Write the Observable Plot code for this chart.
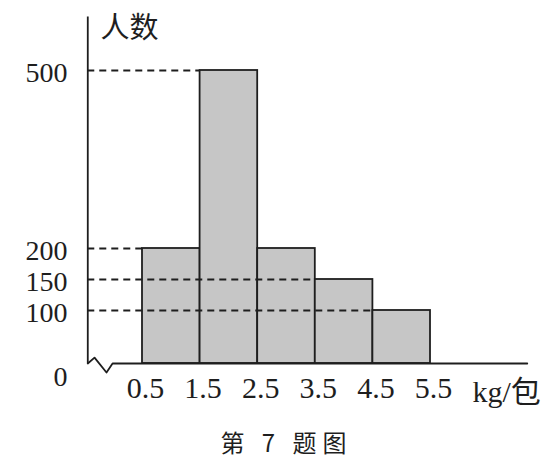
<!DOCTYPE html>
<html><head><meta charset="utf-8">
<script src="https://cdn.jsdelivr.net/npm/d3@7"></script>
<script src="https://cdn.jsdelivr.net/npm/@observablehq/plot@0.6"></script>
<style>body{margin:0;background:#fff}</style>
</head><body><div id="chart"></div>
<script>
const binEdges = [0.5, 1.5, 2.5, 3.5, 4.5, 5.5];
const counts = [200, 500, 200, 150, 100];
const yTicks = [100, 150, 200, 500];
const xLabel = "kg/包";
const yLabel = "人数";
const caption = "第 7 题图";

const bins = counts.map((c, i) => ({x1: binEdges[i], x2: binEdges[i + 1], count: c}));
const guides = yTicks.map(v => ({v, x2: bins.find(b => b.count === v).x1}));
const axisX = -0.45, axisTop = 590, axisEnd = 7.18;
const breakMark = [
  {x: axisX, y: 0}, {x: -0.333, y: 11}, {x: -0.125, y: -17}, {x: -0.02, y: 0}, {x: axisEnd, y: 0}
];
// the printed figure uses an uneven vertical scale (as drawn in the textbook)
const yWarp = d3.scaleLinear().domain([0, 100, 200, 500]).range([0, 53, 115, 293]);
const serif = "'Liberation Serif', 'Times New Roman', 'Noto Sans CJK SC', serif";
const cjk = "'Noto Sans CJK SC', sans-serif";
const ink = "#1e1e1e";

const chart = Plot.plot({
  width: 548, height: 463,
  marginLeft: 87, marginRight: 21, marginTop: 16, marginBottom: 100,
  x: {domain: [0.5, 5.5], range: [142, 430]},
  y: {transform: v => yWarp(v), domain: [0, 293], range: [363, 70]},
  style: {fontFamily: serif, color: ink, background: "#fff"},
  marks: [
    Plot.rectY(bins, {x1: "x1", x2: "x2", y1: 0, y2: "count", fill: "#c6c6c6", stroke: ink, strokeWidth: 1.8}),
    Plot.ruleY(guides, {y: "v", x1: () => axisX, x2: "x2", stroke: ink, strokeWidth: 2, strokeDasharray: "7,5"}),
    Plot.ruleX([axisX], {y1: 0, y2: axisTop, stroke: ink, strokeWidth: 1.8}),
    Plot.line(breakMark, {x: "x", y: "y", stroke: ink, strokeWidth: 1.8}),
    Plot.axisY(yTicks, {tickSize: 0, tickPadding: 20, fontSize: 28, dy: 3, fontFamily: serif}),
    Plot.text(["0"], {frameAnchor: "bottom-left", lineAnchor: "middle", dx: -20, dy: 14, textAnchor: "end", fontSize: 28, fontFamily: serif, fill: ink}),
    Plot.axisX(binEdges, {tickSize: 0, tickPadding: 13, fontSize: 30, dx: 3, tickFormat: d => String(d), fontFamily: serif}),
    Plot.text([xLabel], {frameAnchor: "bottom-right", lineAnchor: "middle", dx: -55, dy: 29, textAnchor: "start", fontSize: 30, fontFamily: serif, fill: ink}),
    Plot.text([yLabel], {frameAnchor: "top-left", lineAnchor: "middle", dx: 13, dy: 12, textAnchor: "start", fontSize: 29, fontFamily: cjk, fill: ink}),
    Plot.text([caption], {frameAnchor: "bottom", lineAnchor: "middle", dx: -21, dy: 81, fontSize: 24, fontFamily: cjk, fill: ink})
  ]
});
d3.select(chart).selectAll("text").filter(function () { return this.textContent === caption; })
  .attr("letter-spacing", 6);
document.getElementById("chart").appendChild(chart);
</script>
</body></html>
